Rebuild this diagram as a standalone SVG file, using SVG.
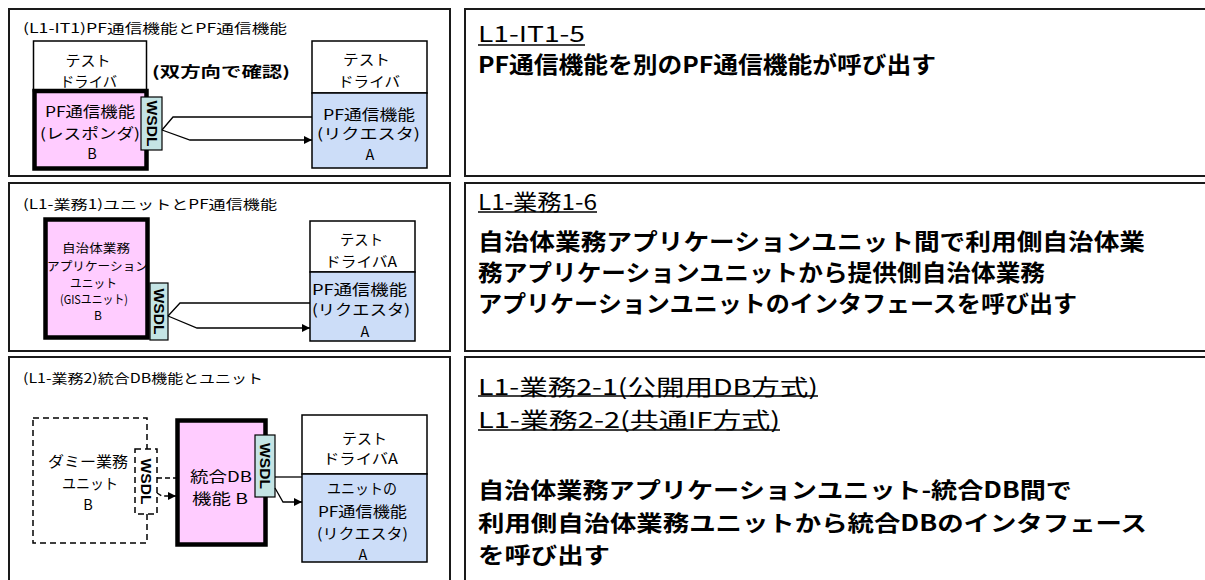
<svg xmlns="http://www.w3.org/2000/svg" width="1205" height="580" viewBox="0 0 1205 580">
<style>
.panel{fill:#fff;stroke:#1a1a1a;stroke-width:2}
.box{stroke:#000;stroke-width:1.5}
.white{fill:#fff}
.req{fill:#CCDDF8}
.pink{fill:#FFCCFF;stroke:#000;stroke-width:4.5}
.wsdl{fill:#C4E4E4;stroke:#000;stroke-width:1.2}
.dbox{fill:#fff;stroke:#000;stroke-width:1.5;stroke-dasharray:6 4}
.ln{fill:none;stroke:#000;stroke-width:1.3}
.dl{fill:none;stroke:#000;stroke-width:1.3;stroke-dasharray:5 3}
.ul{stroke:#000;stroke-width:1.6}
text{font-family:"Noto Sans CJK JP","Noto Sans",sans-serif;fill:#000}
.t{font-size:13px;dominant-baseline:central}
.n{font-size:14.5px;text-anchor:middle;dominant-baseline:central}
.s{font-size:12px;text-anchor:middle;dominant-baseline:central}
.w{font-family:"Liberation Sans",sans-serif;font-size:14px;font-weight:bold;text-anchor:middle;dominant-baseline:central}
.h{font-size:22px;dominant-baseline:central}
.b{font-size:23px;font-weight:bold;dominant-baseline:central}
.b2{font-size:22px;font-weight:bold;dominant-baseline:central}
</style>
<defs>
<marker id="ah" viewBox="0 0 10 10" refX="10" refY="5" markerWidth="8" markerHeight="8" markerUnits="userSpaceOnUse" orient="auto">
<path d="M0,0 L10,5 L0,10 z" fill="#000"/>
</marker>
</defs>

<g id="panels">
<rect class="panel" x="9" y="9" width="441" height="167"/>
<rect class="panel" x="9" y="183" width="441" height="168"/>
<rect class="panel" x="9" y="357" width="441" height="240"/>
<rect class="panel" x="465" y="9" width="760" height="167"/>
<rect class="panel" x="465" y="183" width="760" height="168"/>
<rect class="panel" x="465" y="357" width="760" height="240"/>
</g>

<g id="titles">
<text class="t" x="23" y="27.5" textLength="264" lengthAdjust="spacingAndGlyphs">(L1-IT1)PF通信機能とPF通信機能</text>
<text class="t" x="23" y="203" textLength="254" lengthAdjust="spacingAndGlyphs">(L1-業務1)ユニットとPF通信機能</text>
<text class="t" x="23" y="377" textLength="240" lengthAdjust="spacingAndGlyphs">(L1-業務2)統合DB機能とユニット</text>
<text class="n" x="221" y="70" font-size="16" font-weight="bold" textLength="138" lengthAdjust="spacingAndGlyphs">(双方向で確認)</text>
</g>

<g id="p1-driverB">
<rect class="box white" x="33.5" y="41" width="113" height="50"/>
<text class="n" x="88" y="59" textLength="45" lengthAdjust="spacingAndGlyphs">テスト</text>
<text class="n" x="88.5" y="80" textLength="57" lengthAdjust="spacingAndGlyphs">ドライバ</text>
</g>
<g id="p1-responderB">
<rect class="pink" x="34.5" y="91" width="112" height="77.5"/>
<text class="n" x="90" y="110" textLength="90" lengthAdjust="spacingAndGlyphs">PF通信機能</text>
<text class="n" x="90" y="132" textLength="100" lengthAdjust="spacingAndGlyphs">(レスポンダ)</text>
<text class="n" x="92" y="152">B</text>
</g>
<g id="p1-wsdl">
<rect class="wsdl" x="141" y="97" width="21" height="53"/>
<text class="w" transform="translate(151.5 123.5) rotate(90)" textLength="46" lengthAdjust="spacingAndGlyphs">WSDL</text>
</g>
<g id="p1-requesterA">
<rect class="box white" x="312" y="41" width="115" height="52"/>
<rect class="box req" x="312" y="93" width="115" height="75"/>
<text class="n" x="366.5" y="58" textLength="47" lengthAdjust="spacingAndGlyphs">テスト</text>
<text class="n" x="369" y="80" textLength="62" lengthAdjust="spacingAndGlyphs">ドライバ</text>
<text class="n" x="369" y="113" textLength="92" lengthAdjust="spacingAndGlyphs">PF通信機能</text>
<text class="n" x="368.5" y="132" textLength="103" lengthAdjust="spacingAndGlyphs">(リクエスタ)</text>
<text class="n" x="370" y="153">A</text>
</g>

<g id="p2-unitB">
<rect class="pink" x="45.5" y="219.5" width="102" height="118"/>
<text class="s" x="96" y="247" textLength="68" lengthAdjust="spacingAndGlyphs">自治体業務</text>
<text class="s" x="97.5" y="265" textLength="101" lengthAdjust="spacingAndGlyphs">アプリケーション</text>
<text class="s" x="93.5" y="282" textLength="47" lengthAdjust="spacingAndGlyphs">ユニット</text>
<text class="s" x="94" y="298" textLength="68" lengthAdjust="spacingAndGlyphs">(GISユニット)</text>
<text class="s" x="98" y="314">B</text>
</g>
<g id="p2-wsdl">
<rect class="wsdl" x="150" y="283" width="18" height="57"/>
<text class="w" transform="translate(159 311.5) rotate(90)" textLength="46" lengthAdjust="spacingAndGlyphs">WSDL</text>
</g>
<g id="p2-requesterA">
<rect class="box white" x="310" y="221" width="105" height="51"/>
<rect class="box req" x="310" y="272" width="105" height="69"/>
<text class="n" x="361.5" y="238" textLength="43" lengthAdjust="spacingAndGlyphs">テスト</text>
<text class="n" x="361" y="260" textLength="72" lengthAdjust="spacingAndGlyphs">ドライバA</text>
<text class="n" x="359.5" y="288" textLength="95" lengthAdjust="spacingAndGlyphs">PF通信機能</text>
<text class="n" x="361" y="308" textLength="98" lengthAdjust="spacingAndGlyphs">(リクエスタ)</text>
<text class="n" x="365" y="330">A</text>
</g>

<g id="p3-dummyB">
<rect class="dbox" x="33" y="418" width="114" height="125"/>
<text class="n" x="88" y="460" textLength="80" lengthAdjust="spacingAndGlyphs">ダミー業務</text>
<text class="n" x="90" y="482" textLength="56" lengthAdjust="spacingAndGlyphs">ユニット</text>
<text class="n" x="88" y="503">B</text>
</g>
<g id="p3-dummy-wsdl">
<rect class="dbox" x="135" y="449" width="22" height="65"/>
<text class="w" transform="translate(146 481.5) rotate(90)" textLength="46" lengthAdjust="spacingAndGlyphs">WSDL</text>
</g>
<g id="p3-dbB">
<rect class="pink" x="177.5" y="420.5" width="88" height="124"/>
<text class="n" x="221" y="475" font-size="17" textLength="62" lengthAdjust="spacingAndGlyphs">統合DB</text>
<text class="n" x="220" y="497" font-size="17" textLength="56" lengthAdjust="spacingAndGlyphs">機能 B</text>
</g>
<g id="p3-wsdl">
<rect class="wsdl" x="255" y="435" width="20" height="62"/>
<text class="w" transform="translate(265 466) rotate(90)" textLength="46" lengthAdjust="spacingAndGlyphs">WSDL</text>
</g>
<g id="p3-requesterA">
<rect class="box white" x="302" y="415" width="125" height="59"/>
<rect class="box req" x="302" y="474" width="125" height="88"/>
<text class="n" x="364.5" y="437" textLength="45" lengthAdjust="spacingAndGlyphs">テスト</text>
<text class="n" x="360.5" y="457" textLength="75" lengthAdjust="spacingAndGlyphs">ドライバA</text>
<text class="n" x="362" y="487" textLength="70" lengthAdjust="spacingAndGlyphs">ユニットの</text>
<text class="n" x="362.5" y="510" textLength="89" lengthAdjust="spacingAndGlyphs">PF通信機能</text>
<text class="n" x="362.5" y="532" textLength="91" lengthAdjust="spacingAndGlyphs">(リクエスタ)</text>
<text class="n" x="363" y="553">A</text>
</g>

<g id="connectors">
<polyline class="ln" points="162,130 173,117 312,117"/>
<polyline class="ln" points="162,130 190,140 312,140" marker-end="url(#ah)"/>
<polyline class="ln" points="168,316 180,303 310,303"/>
<polyline class="ln" points="168,316 197,328 310,328" marker-end="url(#ah)"/>
<polyline class="dl" points="157,478 177,478"/>
<polyline class="dl" points="157,493 162,496 176,496" marker-end="url(#ah)"/>
<polyline class="ln" points="275,477 302,477"/>
<polyline class="ln" points="275,488 283,502 302,502" marker-end="url(#ah)"/>
</g>

<g id="desc1">
<text class="h" x="478" y="32" textLength="107" lengthAdjust="spacingAndGlyphs">L1-IT1-5</text>
<line class="ul" x1="478" y1="45" x2="585" y2="45"/>
<text class="b" x="478" y="63" textLength="458" lengthAdjust="spacingAndGlyphs">PF通信機能を別のPF通信機能が呼び出す</text>
</g>
<g id="desc2">
<text class="h" x="478" y="200" textLength="119" lengthAdjust="spacingAndGlyphs">L1-業務1-6</text>
<line class="ul" x1="478" y1="212" x2="597" y2="212"/>
<text class="b" x="478" y="240" textLength="667" lengthAdjust="spacingAndGlyphs">自治体業務アプリケーションユニット間で利用側自治体業</text>
<text class="b" x="478" y="271" textLength="567" lengthAdjust="spacingAndGlyphs">務アプリケーションユニットから提供側自治体業務</text>
<text class="b" x="478" y="302" textLength="599" lengthAdjust="spacingAndGlyphs">アプリケーションユニットのインタフェースを呼び出す</text>
</g>
<g id="desc3">
<text class="h" x="478" y="385" textLength="340" lengthAdjust="spacingAndGlyphs">L1-業務2-1(公開用DB方式)</text>
<line class="ul" x1="478" y1="396" x2="818" y2="396"/>
<text class="h" x="478" y="418" textLength="302" lengthAdjust="spacingAndGlyphs">L1-業務2-2(共通IF方式)</text>
<line class="ul" x1="478" y1="430" x2="780" y2="430"/>
<text class="b2" x="478" y="488" textLength="594" lengthAdjust="spacingAndGlyphs">自治体業務アプリケーションユニット-統合DB間で</text>
<text class="b2" x="478" y="521" textLength="669" lengthAdjust="spacingAndGlyphs">利用側自治体業務ユニットから統合DBのインタフェース</text>
<text class="b2" x="478" y="553" textLength="132" lengthAdjust="spacingAndGlyphs">を呼び出す</text>
</g>
</svg>
